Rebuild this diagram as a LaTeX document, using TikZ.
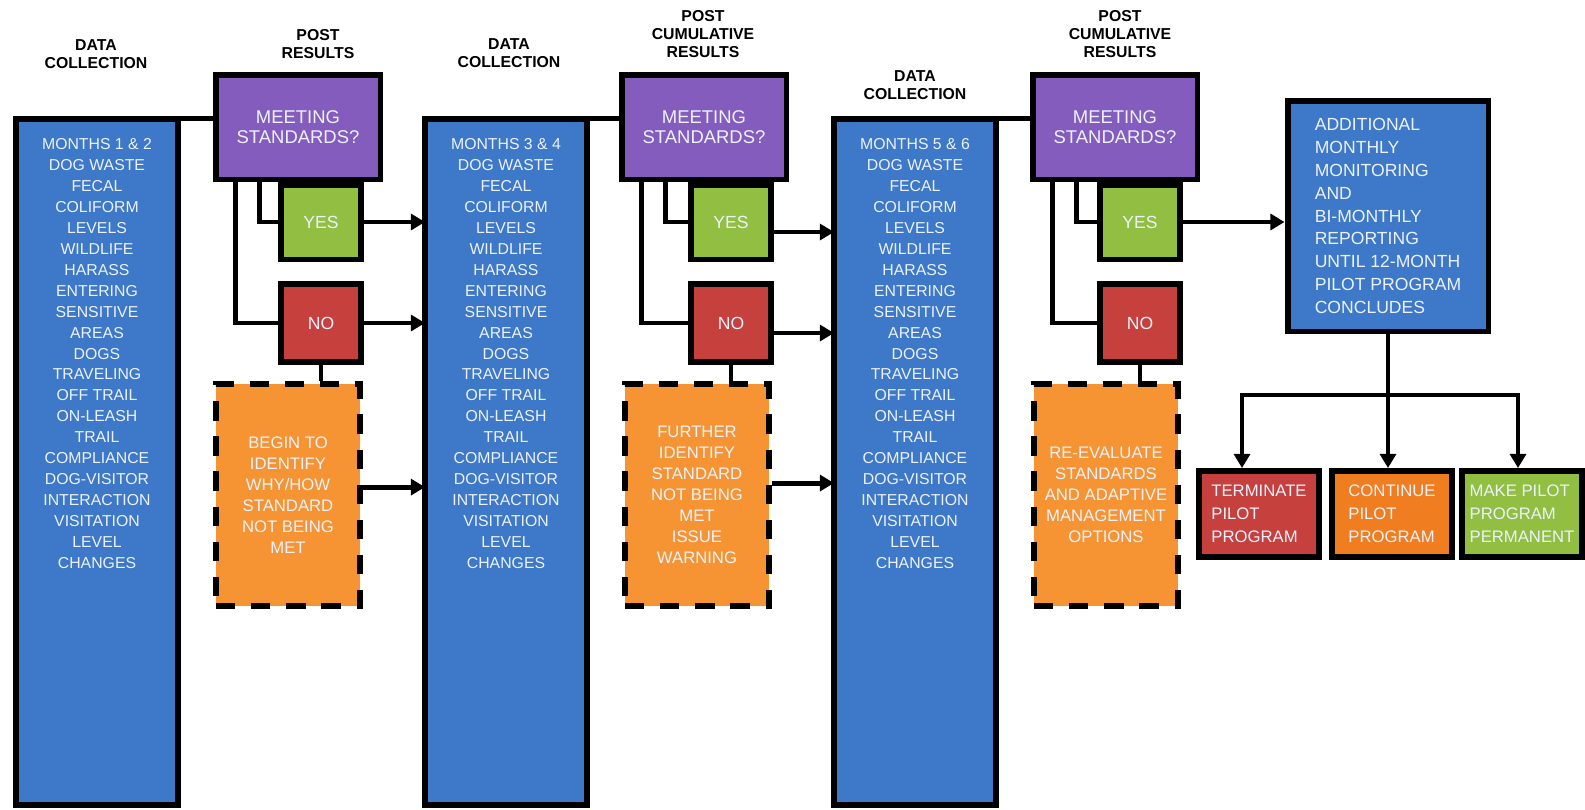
\documentclass[tikz,border=0pt]{standalone}
\usepackage{fontspec}
\setmainfont{Liberation Sans}
\usetikzlibrary{arrows.meta,calc}
\definecolor{boxBlue}{RGB}{62,120,200}
\definecolor{boxPurple}{RGB}{132,92,190}
\definecolor{boxGreen}{RGB}{146,190,66}
\definecolor{boxRed}{RGB}{198,64,62}
\definecolor{boxOrange}{RGB}{246,148,52}
\definecolor{boxAmber}{RGB}{240,126,32}
\definecolor{txtLight}{RGB}{236,242,252}
\newcommand{\monitorlist}[1]{MONTHS #1\\DOG WASTE\\FECAL\\COLIFORM\\LEVELS\\WILDLIFE\\HARASS\\ENTERING\\SENSITIVE\\AREAS\\DOGS\\TRAVELING\\OFF TRAIL\\ON-LEASH\\TRAIL\\COMPLIANCE\\DOG-VISITOR\\INTERACTION\\VISITATION\\LEVEL\\CHANGES}

\begin{document}
\begin{tikzpicture}[x=0.02cm, y=-0.02cm, >={Triangle[length=8pt,width=9pt]},
  box/.style={draw=black, line width=3.4pt, inner sep=0pt, text=txtLight, align=center},
  bluebox/.style={box, fill=boxBlue, outer sep=0pt, minimum width=3.24cm, minimum height=13.74cm},
  listtext/.style={anchor=north, inner sep=0pt, text=txtLight, align=center, font=\fontsize{9}{11.9}\selectfont},
  meetbox/.style={box, fill=boxPurple, minimum width=3.3cm, minimum height=2.1cm, font=\fontsize{10.5}{11.5}\selectfont},
  yesbox/.style={box, fill=boxGreen, minimum width=1.6cm, minimum height=1.5cm, font=\fontsize{10}{12}\selectfont},
  nobox/.style={box, fill=boxRed, minimum width=1.6cm, minimum height=1.56cm, font=\fontsize{10}{12}\selectfont},
  actbox/.style={box, fill=boxOrange, dash pattern=on 11pt off 9pt, minimum width=2.88cm, minimum height=4.44cm, font=\fontsize{9.5}{12}\selectfont},
  endbox/.style={box, align=left, minimum width=2.4cm, minimum height=1.72cm, font=\fontsize{9.5}{13}\selectfont},
  heading/.style={align=center, inner sep=0pt, font=\fontsize{9}{10}\selectfont\bfseries},
  link/.style={line width=2.8pt}]
\useasboundingbox (0,0) rectangle (1585,809);
% months 1 & 2
\node[heading] (head1) at (96,54) {DATA\\COLLECTION};
\node[bluebox] (blue1) at (97,462) {};
\node[listtext] (list1) at ($(blue1.north)+(0,20)$) {\monitorlist{1 \& 2}};
\node[heading] (post1) at (318,44) {POST\\RESULTS};
\node[yesbox] (yes1) at (321,222) {YES};
\node[nobox] (no1) at (321,323) {NO};
\node[meetbox] (meet1) at (298,127) {MEETING\\STANDARDS?};
\node[actbox] (act1) at (288,495) {BEGIN TO\\IDENTIFY\\WHY/HOW\\STANDARD\\NOT BEING\\MET};
% months 3 & 4
\node[heading] (head2) at (509,53) {DATA\\COLLECTION};
\node[bluebox] (blue2) at (506,462) {};
\node[listtext] (list2) at ($(blue2.north)+(0,20)$) {\monitorlist{3 \& 4}};
\node[heading] (post2) at (703,34) {POST\\CUMULATIVE\\RESULTS};
\node[yesbox] (yes2) at (731,222) {YES};
\node[nobox] (no2) at (731,323) {NO};
\node[meetbox] (meet2) at (704,127) {MEETING\\STANDARDS?};
\node[actbox] (act2) at (697,495) {FURTHER\\IDENTIFY\\STANDARD\\NOT BEING\\MET\\ISSUE\\WARNING};
% months 5 & 6
\node[heading] (head3) at (915,85) {DATA\\COLLECTION};
\node[bluebox] (blue3) at (915,462) {};
\node[listtext] (list3) at ($(blue3.north)+(0,20)$) {\monitorlist{5 \& 6}};
\node[heading] (post3) at (1120,34) {POST\\CUMULATIVE\\RESULTS};
\node[yesbox] (yes3) at (1140,222) {YES};
\node[nobox] (no3) at (1140,323) {NO};
\node[meetbox] (meet3) at (1115,127) {MEETING\\STANDARDS?};
\node[actbox] (act3) at (1106,495) {RE-EVALUATE\\STANDARDS\\AND ADAPTIVE\\MANAGEMENT\\OPTIONS};
% after month 6
\node[box, fill=boxBlue, align=left, minimum width=4.02cm, minimum height=4.62cm, font=\fontsize{10}{13}\selectfont] (extra) at (1388,216) {ADDITIONAL\\MONTHLY\\MONITORING\\AND\\BI-MONTHLY\\REPORTING\\UNTIL 12-MONTH\\PILOT PROGRAM\\CONCLUDES};
\node[endbox, fill=boxRed] (term) at (1259,514) {TERMINATE\\PILOT\\PROGRAM};
\node[endbox, fill=boxAmber] (cont) at (1392,514) {CONTINUE\\PILOT\\PROGRAM};
\node[endbox, fill=boxGreen] (make) at (1522,514) {MAKE PILOT\\PROGRAM\\PERMANENT};
% links
\foreach \i in {1,2,3} {
  \draw[link] (blue\i.north east) -- (meet\i.west |- blue\i.north east);
  \draw[link] ($(meet\i.south west)+(47,0)$) |- (yes\i.west);
  \draw[link] ($(meet\i.south west)+(23,0)$) |- (no\i.west);
  \draw[link] (no\i.south) -- (no\i.south |- act\i.north);
}
\draw[link,->] (yes1.east) -- (yes1.east -| blue2.west);
\draw[link,->] (no1.east) -- (no1.east -| blue2.west);
\draw[link,->] ([yshift=4.5pt]act1.east) -- ([yshift=4.5pt]act1.east -| blue2.west);
\draw[link,->] ([yshift=-5.7pt]yes2.east) -- ([yshift=-5.7pt]yes2.east -| blue3.west);
\draw[link,->] ([yshift=-5.7pt]no2.east) -- ([yshift=-5.7pt]no2.east -| blue3.west);
\draw[link,->] ([yshift=6.8pt]act2.east) -- ([yshift=6.8pt]act2.east -| blue3.west);
\draw[link,->] (yes3.east) -- (yes3.east -| extra.west);
% three outcomes
\coordinate (busL) at (1242,395);
\coordinate (busR) at (1518,395);
\draw[link,->] (extra.south) -- (extra.south |- cont.north);
\draw[link,<->] (busL |- term.north) -- (busL) -- (busR) -- (busR |- make.north);
\end{tikzpicture}
\end{document}
